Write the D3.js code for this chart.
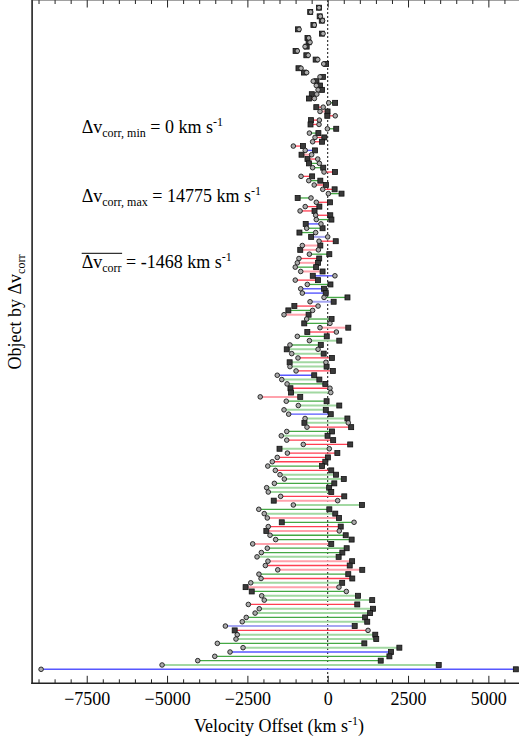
<!DOCTYPE html>
<html>
<head>
<meta charset="utf-8">
<script src="https://cdn.jsdelivr.net/npm/d3@7"></script>
<style>
  body { margin: 0; background: #fff; }
  svg { display: block; }
  text { font-family: "Liberation Serif", "Times New Roman", Times, "DejaVu Serif", serif; fill: #000; }
</style>
</head>
<body>
<svg id="chart" width="519" height="740"></svg>
<script>
// Velocity of each object before correction (circles), km/s, ordered by |Δv_corr|
const circleVel = [
  -270, -530, -230, -160, -415, -890, -145, -590, -550, -705,
  -945, -605, -310, -125, -830, -655, -240, -450, -355, -300,
  -340, -415, 30, -140, -240, 235, -260, -270, -10, -570,
  -395, -470, -1070, -700, -500, -310, -260, -470, -115, -830,
  -590, -420, -155, 20, -520, -355, -700, -860, -375, -355,
  -210, -655, -375, 0, -270, -790, -290, -570, -895, -945,
  -1010, -840, 225, -1010, -635, -840, -790, -115, -550, -300,
  -470, -1360, -655, 70, -240, 270, -945, -570, -1175, -300,
  -1120, -925, -55, -1175, -985, -1570, -1430, -1265, 70, 95,
  -2100, -1290, -915, -1360, -1215, -705, 640, -645, -1275, -1445,
  -1275, -760, 50, -1255, -1570, -1725, -1865, -1630, -1485, -1350,
  -1660, -1900, -1850, -1465, 310, -1070, -2145, -1975, -1880, 820,
  -1850, 360, -1795, -1620, -2335, -1880, -2065, -2200, -1860, -1940,
  -1555, -2140, -2075, -2395, 350, 580, -2055, -1975, -2470, -2130,
  -2260, -2535, -2660, -3185, 1255, -2815, -2855, -3435, -2635, -3040,
  -3515, -4045, -5155, -8920
];

// Corrected velocity of each object (squares), km/s
const squareVel = [
  -270, -545, -250, -185, -445, -925, -180, -630, -595, -655,
  -1000, -665, -375, -50, -910, -740, -150, -350, -240, -175,
  -495, -585, 230, -355, -5, -13, -520, -535, 265, -290,
  -105, -175, -770, -395, -815, -630, -585, -140, 225, -485,
  -230, -55, 215, 430, -935, 70, -260, -410, 80, 115,
  -685, -160, -880, -515, 250, -230, -855, 50, -265, -300,
  -360, -160, -465, -300, 85, -115, -62, 615, 185, -1038,
  -1225, -595, 120, -730, 640, -635, -30, 360, -215, -1275,
  -125, 130, -1185, -35, 160, -420, -260, -75, -1160, -1140,
  -855, -35, 360, -60, 95, 613, -725, 730, 135, -5,
  170, 700, -1500, 300, 5, -75, -175, 110, 260, 500,
  205, 45, 110, 515, -1680, 1065, 50, 235, 350, -1430,
  405, -1910, 560, 745, 110, 590, 455, 340, 760, 685,
  1075, 640, 765, 450, -2555, -2365, 945, 1385, 920, 1410,
  1320, 1165, 1230, 840, -2895, 1480, 1510, 1140, 2230, 1970,
  1920, 1650, 3455, 5855
];

// Connector class per object: R red, P pale red, G green, L pale green, B blue, Q pale blue
const linkKind = (
  "GRGRRGRGRGRRGRGRGRGRBRGRPR" +
  "RRGGRRRBPRGGRRGRRGGRRRRGBG" +
  "GQRPPGRPGPBRGBBGQRGPGGPRG" +
  "LGLLRLLRBLGRLPGLLBLLRGLRRL" +
  "RRRGRLLGLLRPLGLPGRPGGPGGL" +
  "PRPGRLPGLLRLLGLQRLLGLBGGLB"
).split("");

const majorTicks = [-7500, -5000, -2500, 0, 2500, 5000];
const minorTicks = d3.range(-9000, 6001, 500).filter(v => !majorTicks.includes(v));

const kindColor = {
  R: "#ff3f52", P: "#ffa2ac", G: "#44a844", L: "#a2d8a2", B: "#5757ff", Q: "#a6a6f2"
};
const kindWidth = { R: 1.3, P: 2, G: 1.3, L: 2, B: 1.4, Q: 2 };

const rows = circleVel.map((c, i) => ({ i, c, s: squareVel[i], k: linkKind[i] }));

const svg = d3.select("#chart");
const left = 32.1, bottomY = 683.3;
const serif = '"Liberation Serif", "Times New Roman", Times, "DejaVu Serif", serif';
const fs = 18, fsSmall = 12;

const x = d3.scaleLinear().domain([-9200, 6000]).range([left, 520.5]);
const y = d3.scalePoint().domain(d3.range(rows.length)).range([7.7, 669.3]);

// zero reference line
svg.append("line")
  .attr("x1", x(0)).attr("x2", x(0))
  .attr("y1", 0).attr("y2", bottomY)
  .attr("stroke", "#111").attr("stroke-width", 1)
  .attr("stroke-dasharray", "2,2");

// connectors
svg.append("g").selectAll("line").data(rows).join("line")
  .attr("x1", d => x(d.c)).attr("x2", d => x(d.s))
  .attr("y1", d => y(d.i)).attr("y2", d => y(d.i))
  .attr("stroke", d => kindColor[d.k])
  .attr("stroke-width", d => kindWidth[d.k]);

// corrected velocities
const sq = 5;
svg.append("g").selectAll("rect").data(rows).join("rect")
  .attr("x", d => x(d.s) - sq / 2).attr("y", d => y(d.i) - sq / 2)
  .attr("width", sq).attr("height", sq)
  .attr("fill", "#3a3a3a").attr("stroke", "#111").attr("stroke-width", 0.8);

// original velocities
svg.append("g").selectAll("circle").data(rows).join("circle")
  .attr("cx", d => x(d.c)).attr("cy", d => y(d.i)).attr("r", 2.3)
  .attr("fill", "#ababab").attr("stroke", "#1a1a1a").attr("stroke-width", 0.9);

// bottom axis: major ticks with labels, minor ticks
const axB = svg.append("g").attr("transform", `translate(0,${bottomY})`)
  .call(d3.axisBottom(x).tickValues(majorTicks).tickSize(-7.5).tickSizeOuter(0)
    .tickFormat(d3.format("d")));
axB.select(".domain").remove();
axB.attr("font-family", serif).attr("font-size", fs);
axB.selectAll("text").attr("dy", 0).attr("y", 22)
  .style("font-size", fs + "px").style("font-family", serif);
axB.selectAll("line").attr("stroke", "#222");
const axBm = svg.append("g").attr("transform", `translate(0,${bottomY})`)
  .call(d3.axisBottom(x).tickValues(minorTicks).tickSize(-4).tickSizeOuter(0).tickFormat(""));
axBm.select(".domain").remove();
axBm.selectAll("line").attr("stroke", "#222");

// top axis: inward ticks only
const axT = svg.append("g")
  .call(d3.axisTop(x).tickValues(majorTicks).tickSize(-7.5).tickSizeOuter(0).tickFormat(""));
axT.select(".domain").remove();
axT.selectAll("line").attr("stroke", "#222");
const axTm = svg.append("g")
  .call(d3.axisTop(x).tickValues(minorTicks).tickSize(-4).tickSizeOuter(0).tickFormat(""));
axTm.select(".domain").remove();
axTm.selectAll("line").attr("stroke", "#222");

// frame
svg.append("line").attr("x1", left).attr("x2", left).attr("y1", 0).attr("y2", bottomY + 0.8)
  .attr("stroke", "#222").attr("stroke-width", 1.6);
svg.append("line").attr("x1", left - 0.8).attr("x2", 519).attr("y1", bottomY).attr("y2", bottomY)
  .attr("stroke", "#222").attr("stroke-width", 1.6);
svg.append("line").attr("x1", left).attr("x2", 519).attr("y1", 0).attr("y2", 0)
  .attr("stroke", "#444").attr("stroke-width", 1);

// axis titles
const xt = svg.append("text").attr("x", 279).attr("y", 731.7)
  .attr("text-anchor", "middle").style("font-size", fs + "px");
xt.append("tspan").text("Velocity Offset (km s");
xt.append("tspan").attr("dy", -7).style("font-size", fsSmall + "px").text("-1");
xt.append("tspan").attr("dy", 7).text(")");

const yt = svg.append("text")
  .attr("transform", "translate(21,312) rotate(-90)")
  .attr("text-anchor", "middle").style("font-size", fs + "px");
yt.append("tspan").text("Object by \u0394v");
yt.append("tspan").attr("dy", 4).style("font-size", fsSmall + "px").text("corr");

// summary annotations
function stat(yBase, sub, rest) {
  const t = svg.append("text").attr("x", 81.7).attr("y", yBase).style("font-size", fs + "px");
  t.append("tspan").text("\u0394v");
  t.append("tspan").attr("dy", 4).style("font-size", fsSmall + "px").text(sub);
  t.append("tspan").attr("dy", -4).text(rest);
  t.append("tspan").attr("dy", -7).style("font-size", fsSmall + "px").text("-1");
  return t;
}
stat(133.3, "corr, min", " = 0 km s");
stat(201.7, "corr, max", " = 14775 km s");

const meanY = 268.3;
const mHead = svg.append("text").attr("x", 81.7).attr("y", meanY).style("font-size", fs + "px");
mHead.append("tspan").text("\u0394v");
mHead.append("tspan").attr("dy", 4).style("font-size", fsSmall + "px").text("corr");
const headW = mHead.node().getBBox().width;
svg.append("line").attr("x1", 81.7).attr("x2", 81.7 + headW + 0.5)
  .attr("y1", meanY - 15).attr("y2", meanY - 15)
  .attr("stroke", "#000").attr("stroke-width", 1);
const mRest = svg.append("text").attr("x", 81.7 + headW).attr("y", meanY).style("font-size", fs + "px");
mRest.append("tspan").text("\u00A0= -1468 km s");
mRest.append("tspan").attr("dy", -7).style("font-size", fsSmall + "px").text("-1");
</script>
</body>
</html>
